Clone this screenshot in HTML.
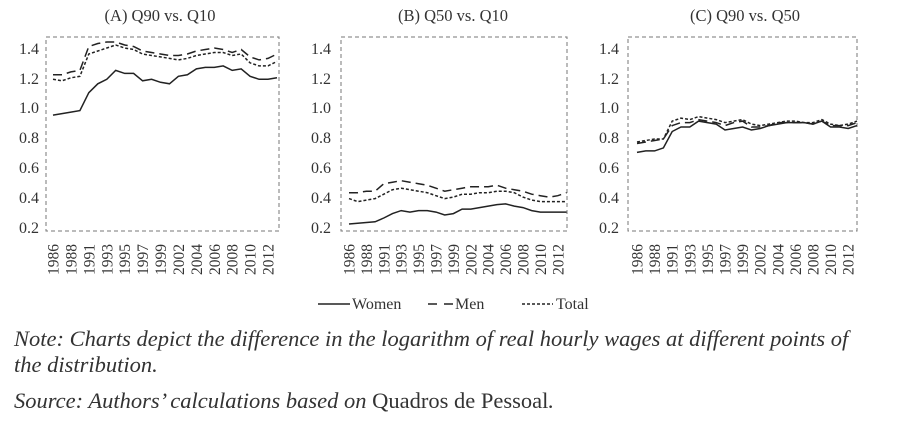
<!DOCTYPE html>
<html><head><meta charset="utf-8"><style>
body{margin:0;background:#fff;width:900px;height:441px;overflow:hidden}
svg{position:absolute;left:0;top:0}
.note{position:absolute;left:14px;font-family:"Liberation Serif",serif;font-style:italic;font-size:22.5px;color:#333;white-space:nowrap}
</style></head><body>
<svg id="s" width="900" height="441" font-family="Liberation Serif, serif" fill="#333">
<text x="160" y="21" font-size="16.5" text-anchor="middle">(A) Q90 vs. Q10</text>
<text x="453" y="21" font-size="16.5" text-anchor="middle">(B) Q50 vs. Q10</text>
<text x="745" y="21" font-size="16.5" text-anchor="middle">(C) Q90 vs. Q50</text>
<g font-size="16" text-anchor="end">
<text x="39" y="54">1.4</text><text x="39" y="84">1.2</text><text x="39" y="113">1.0</text><text x="39" y="143">0.8</text><text x="39" y="173">0.6</text><text x="39" y="203">0.4</text><text x="39" y="233">0.2</text>
<text x="331" y="54">1.4</text><text x="331" y="84">1.2</text><text x="331" y="113">1.0</text><text x="331" y="143">0.8</text><text x="331" y="173">0.6</text><text x="331" y="203">0.4</text><text x="331" y="233">0.2</text>
<text x="619" y="54">1.4</text><text x="619" y="84">1.2</text><text x="619" y="113">1.0</text><text x="619" y="143">0.8</text><text x="619" y="173">0.6</text><text x="619" y="203">0.4</text><text x="619" y="233">0.2</text>
</g>
<g id="yrs" font-size="15.5" text-anchor="end"></g>
<g font-size="16">
<line x1="318" y1="304" x2="350" y2="304" stroke="#222" stroke-width="1.5"/><text x="352" y="309">Women</text>
<line x1="428" y1="304" x2="454" y2="304" stroke="#222" stroke-width="1.5" stroke-dasharray="9,7"/><text x="455" y="309">Men</text>
<line x1="522" y1="304" x2="553" y2="304" stroke="#222" stroke-width="1.5" stroke-dasharray="3,2"/><text x="556" y="309">Total</text>
</g>
</svg>
<div class="note" style="top:326px">Note: Charts depict the difference in the logarithm of real hourly wages at different points of</div>
<div class="note" style="top:352px">the distribution.</div>
<div class="note" style="top:388px">Source: Authors’ calculations based on <span style="font-style:normal">Quadros de Pessoal</span>.</div>
<script>
var s=document.getElementById('s'),NS='http://www.w3.org/2000/svg';
function el(t,a,p){var e=document.createElementNS(NS,t);for(var k in a)e.setAttribute(k,a[k]);(p||s).appendChild(e);return e;}
var years=['1986','1988','1991','1993','1995','1997','1999','2002','2004','2006','2008','2010','2012'];
var panels=[
{bx:46,bw:233,x0:53,dx:8.96,
w:[.95,.96,.97,.98,1.10,1.16,1.19,1.25,1.23,1.23,1.18,1.19,1.17,1.16,1.21,1.22,1.26,1.27,1.27,1.28,1.25,1.26,1.21,1.19,1.19,1.20],
m:[1.22,1.22,1.24,1.25,1.41,1.43,1.44,1.44,1.42,1.41,1.38,1.37,1.36,1.35,1.35,1.36,1.38,1.39,1.40,1.39,1.37,1.39,1.34,1.32,1.33,1.36],
t:[1.19,1.18,1.20,1.21,1.36,1.38,1.40,1.42,1.40,1.39,1.36,1.35,1.34,1.33,1.32,1.33,1.35,1.36,1.37,1.37,1.35,1.36,1.30,1.28,1.28,1.31]},
{bx:341,bw:226,x0:349,dx:8.7,
w:[.22,.225,.23,.235,.26,.29,.31,.30,.31,.31,.30,.28,.29,.32,.32,.33,.34,.35,.355,.34,.33,.31,.30,.30,.30,.30],
m:[.43,.43,.44,.44,.49,.50,.51,.50,.49,.48,.46,.44,.45,.46,.47,.47,.47,.48,.46,.45,.44,.42,.41,.40,.41,.43],
t:[.39,.37,.38,.39,.42,.45,.46,.45,.44,.43,.41,.39,.40,.42,.42,.43,.43,.44,.44,.43,.40,.38,.37,.37,.37,.37]},
{bx:628,bw:229,x0:637,dx:8.8,
w:[.70,.71,.71,.73,.84,.87,.87,.91,.90,.89,.85,.86,.87,.85,.86,.88,.89,.90,.90,.90,.89,.91,.87,.87,.86,.88],
m:[.76,.77,.78,.79,.88,.90,.90,.92,.91,.90,.88,.90,.91,.87,.87,.88,.90,.90,.90,.90,.89,.91,.88,.88,.88,.90],
t:[.77,.78,.79,.79,.91,.93,.92,.94,.93,.92,.90,.91,.92,.89,.88,.89,.90,.91,.91,.90,.90,.92,.89,.88,.89,.91]}];
function Y(v){return 48+(1.4-v)/0.2*29.83;}
var yg=document.getElementById('yrs');
panels.forEach(function(p){
 el('rect',{x:p.bx,y:37,width:p.bw,height:194,fill:'none',stroke:'#777','stroke-width':1,'stroke-dasharray':'4,3'});
 [['w','none'],['m','9,5'],['t','3,2']].forEach(function(a){
  var pts=p[a[0]].map(function(v,i){return (p.x0+i*p.dx).toFixed(1)+','+Y(v).toFixed(1)}).join(' ');
  var at={points:pts,fill:'none',stroke:'#222','stroke-width':1.5};
  if(a[1]!='none')at['stroke-dasharray']=a[1];
  el('polyline',at);
 });
 years.forEach(function(yr,k){
  var x=p.x0+2*k*p.dx+5.5;
  var t=el('text',{x:x,y:244,transform:'rotate(-90 '+x+' 244)'},yg);t.textContent=yr;
 });
});
</script>
</body></html>
